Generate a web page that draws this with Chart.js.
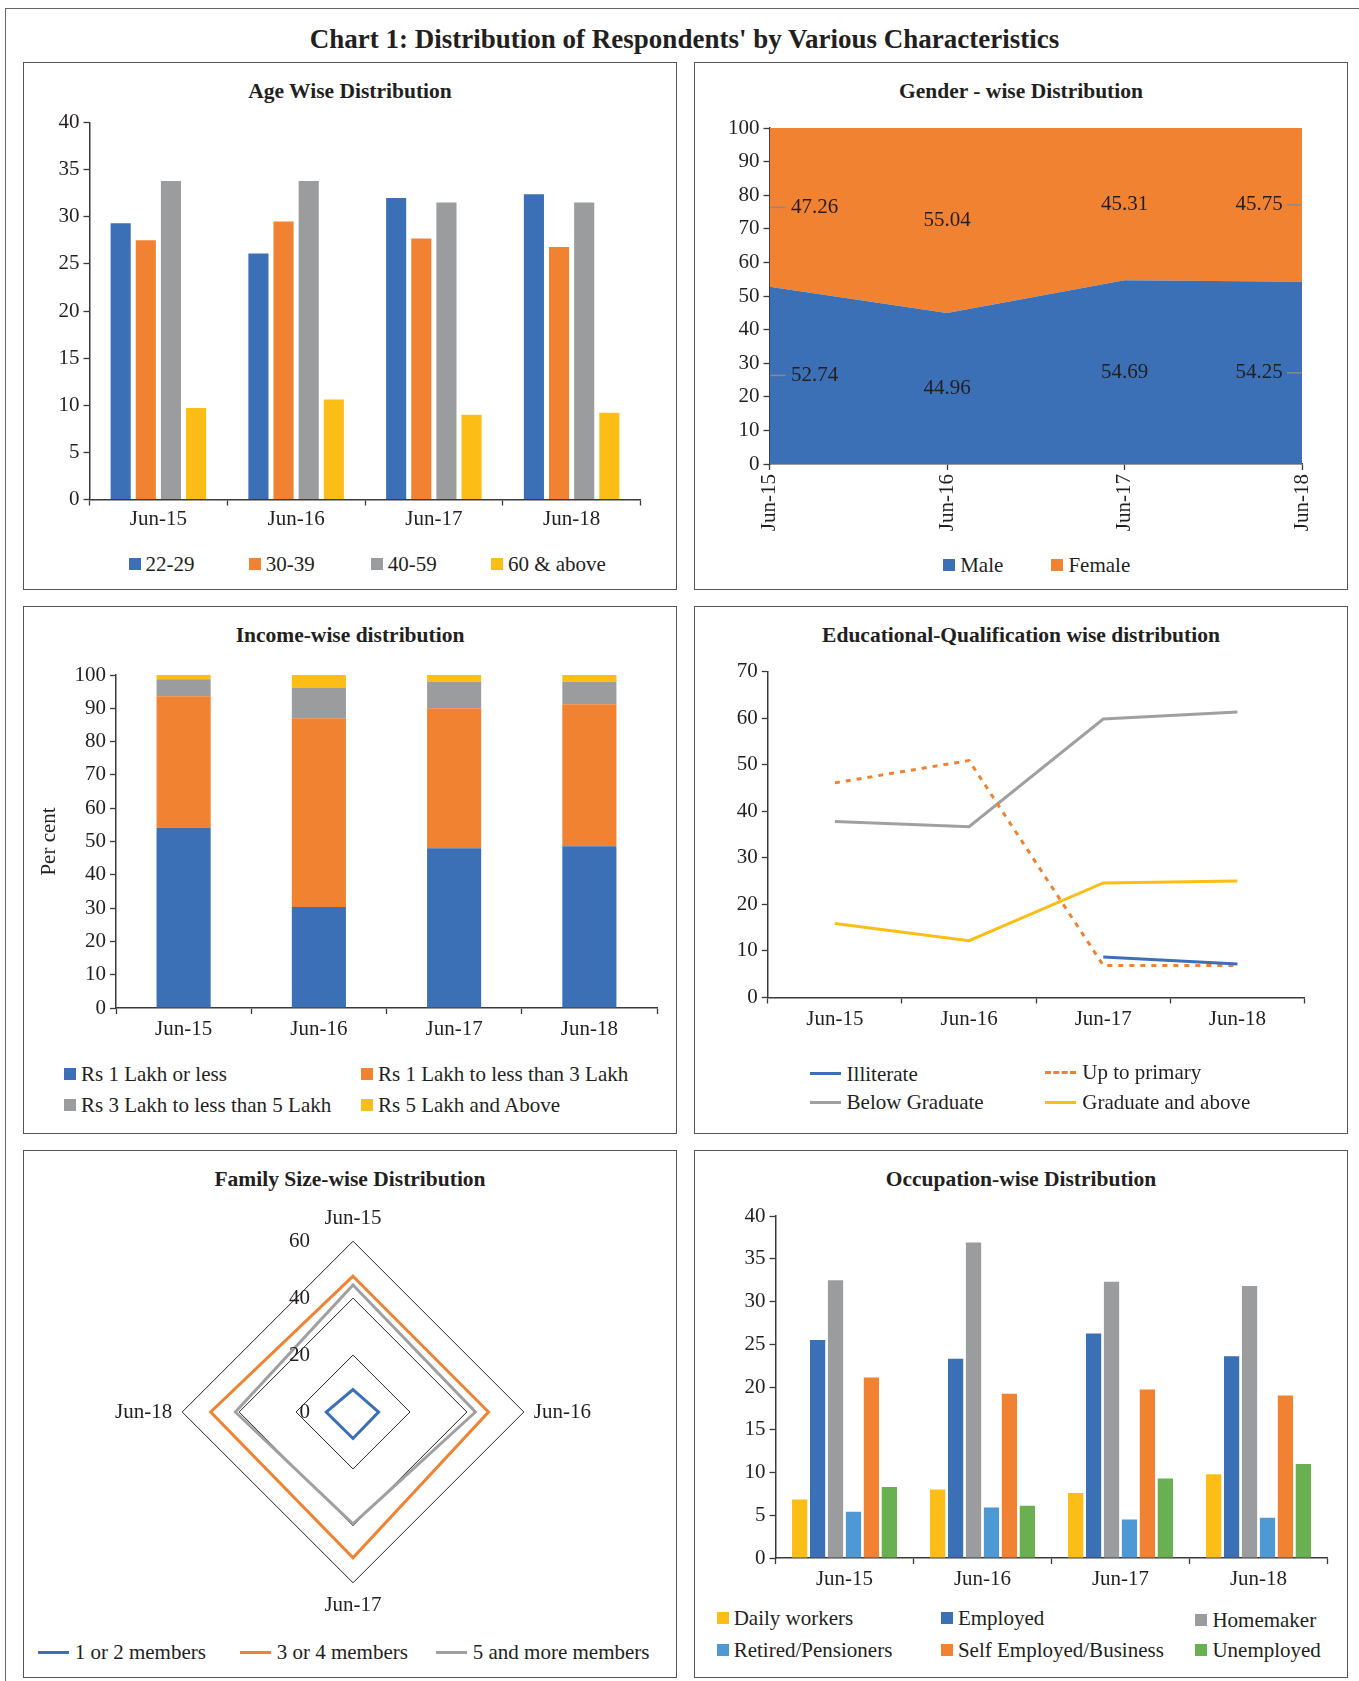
<!DOCTYPE html>
<html>
<head>
<meta charset="utf-8">
<script src="https://cdn.jsdelivr.net/npm/chart.js@4.4.1/dist/chart.umd.min.js"></script>
<style>
  html, body { margin: 0; padding: 0; background: #fff; }
  body { position: relative; width: 1359px; height: 1681px; overflow: hidden;
         font-family: 'Liberation Serif', 'DejaVu Serif', serif; color: #231F20; }
  .frame-top { position: absolute; left: 5px; top: 8px; right: 0; height: 0; border-top: 1.5px solid #666; }
  .frame-left { position: absolute; left: 5px; top: 8px; bottom: 0; width: 0; border-left: 1.5px solid #666; }
  .main-title { position: absolute; left: 10px; right: 0; top: 22px; text-align: center;
                font-weight: bold; font-size: 27px; line-height: 34px; }
  .panel { position: absolute; box-sizing: border-box; border: 1.5px solid #555; width: 654px; height: 528px; }
  .panel-title { position: absolute; left: 0; right: 0; top: 14px; text-align: center;
                 font-weight: bold; font-size: 21.5px; line-height: 28px; }
  canvas { position: absolute; }
  .legend-item { position: absolute; height: 26px; line-height: 26px; font-size: 21px; white-space: nowrap; }
  .legend-item .mk { position: absolute; left: 0; }
  .legend-item .tx { position: absolute; top: 0; }
</style>
</head>
<body>
<div class="frame-top"></div>
<div class="frame-left"></div>
<div class="main-title">Chart 1: Distribution of Respondents' by Various Characteristics</div>

<div class="panel" style="left:23px; top:62px;"><div class="panel-title">Age Wise Distribution</div></div>
<div class="panel" style="left:694px; top:62px;"><div class="panel-title">Gender - wise Distribution</div></div>
<div class="panel" style="left:23px; top:606px;"><div class="panel-title">Income-wise distribution</div></div>
<div class="panel" style="left:694px; top:606px;"><div class="panel-title">Educational-Qualification wise distribution</div></div>
<div class="panel" style="left:23px; top:1150px;"><div class="panel-title">Family Size-wise Distribution</div></div>
<div class="panel" style="left:694px; top:1150px;"><div class="panel-title">Occupation-wise Distribution</div></div>

<canvas id="ageChart" width="651" height="448" style="left:24px; top:100px;"></canvas>
<canvas id="genderChart" width="651" height="448" style="left:695px; top:100px;"></canvas>
<canvas id="incomeChart" width="651" height="415" style="left:24px; top:645px;"></canvas>
<canvas id="eduChart" width="651" height="415" style="left:695px; top:645px;"></canvas>
<canvas id="familyChart" width="560" height="413" style="left:73px; top:1206px;"></canvas>
<canvas id="occChart" width="651" height="412" style="left:695px; top:1190px;"></canvas>

<div id="legends"></div>

<script>
// ---- Survey rounds ----
const periods = ['Jun-15', 'Jun-16', 'Jun-17', 'Jun-18'];

// ---- Age (per cent of respondents) ----
const ageLabels = ['22-29', '30-39', '40-59', '60 & above'];
const age22to29 = [29.3, 26.1, 32.0, 32.4];
const age30to39 = [27.5, 29.5, 27.7, 26.8];
const age40to59 = [33.8, 33.8, 31.5, 31.5];
const age60plus = [9.7, 10.6, 9.0, 9.2];

// ---- Gender ----
const genderLabels = ['Male', 'Female'];
const genderMale = [52.74, 44.96, 54.69, 54.25];
const genderFemale = [47.26, 55.04, 45.31, 45.75];

// ---- Annual income ----
const incomeLabels = ['Rs 1 Lakh or less', 'Rs 1 Lakh to less than 3 Lakh',
                      'Rs 3 Lakh to less than 5 Lakh', 'Rs 5 Lakh and Above'];
const incomeUpTo1L = [54.1, 30.3, 48.0, 48.6];
const income1to3L = [39.5, 56.7, 42.0, 42.6];
const income3to5L = [5.1, 9.1, 8.0, 6.8];
const income5Lplus = [1.3, 3.9, 2.0, 2.0];

// ---- Education ----
const eduLabels = ['Illiterate', 'Up to primary', 'Below Graduate', 'Graduate and above'];
const eduIlliterate = [null, null, 8.7, 7.2];
const eduPrimary = [46.1, 50.9, 6.9, 6.9];
const eduBelowGrad = [37.8, 36.7, 59.8, 61.3];
const eduGraduate = [15.9, 12.2, 24.6, 25.0];

// ---- Family size ----
const familyLabels = ['1 or 2 members', '3 or 4 members', '5 and more members'];
const family1to2 = [7.9, 9.0, 9.3, 9.4];
const family3to4 = [47.7, 47.6, 51.2, 50.0];
const family5plus = [44.6, 43.0, 39.3, 41.3];

// ---- Occupation ----
const occLabels = ['Daily workers', 'Employed', 'Homemaker',
                   'Retired/Pensioners', 'Self Employed/Business', 'Unemployed'];
const occDaily = [6.85, 8.0, 7.6, 9.8];
const occEmployed = [25.5, 23.3, 26.25, 23.6];
const occHomemaker = [32.5, 36.9, 32.3, 31.8];
const occRetired = [5.4, 5.9, 4.5, 4.7];
const occSelfEmployed = [21.1, 19.2, 19.7, 19.0];
const occUnemployed = [8.3, 6.1, 9.3, 11.0];

// ---- Styling ----
const FONT = "'Liberation Serif', 'DejaVu Serif', serif";
const TEXT = '#231F20';
const AXIS = '#3a3a3a';
const C = {
  blue: '#3B6FB6', orange: '#F18232', gray: '#9A9C9D', yellow: '#FCBE16',
  lightBlue: '#4E98D3', green: '#68B050', lineGray: '#A0A0A0'
};

Chart.defaults.font.family = FONT;
Chart.defaults.font.size = 21;
Chart.defaults.color = TEXT;
Chart.defaults.animation = false;
Chart.defaults.responsive = false;
Chart.defaults.devicePixelRatio = 1;
Chart.defaults.plugins.legend.display = false;
Chart.defaults.plugins.tooltip.enabled = false;

function yAxis(width, min, max, step, extra) {
  return Object.assign({
    min: min, max: max,
    ticks: { stepSize: step, padding: 4, color: TEXT },
    grid: { drawOnChartArea: false, tickLength: 6, color: AXIS, tickWidth: 1.3 },
    border: { display: true, color: AXIS, width: 1.5 },
    afterFit: function (s) { s.width = width; }
  }, extra || {});
}

function xAxis(height, offset, extra) {
  return Object.assign({
    offset: offset,
    ticks: { padding: 3, maxRotation: 0, minRotation: 0, autoSkip: false, color: TEXT },
    grid: { drawOnChartArea: false, tickLength: 6, color: AXIS, tickWidth: 1.3, offset: offset },
    border: { display: true, color: AXIS, width: 1.5 },
    afterFit: function (s) { s.height = height; }
  }, extra || {});
}

function barSet(label, data, color, extra) {
  return Object.assign({ label: label, data: data, backgroundColor: color, borderWidth: 0 }, extra || {});
}

// ---- Age-wise grouped bars ----
new Chart(document.getElementById('ageChart'), {
  type: 'bar',
  data: {
    labels: periods,
    datasets: [
      barSet(ageLabels[0], age22to29, C.blue),
      barSet(ageLabels[1], age30to39, C.orange),
      barSet(ageLabels[2], age40to59, C.gray),
      barSet(ageLabels[3], age60plus, C.yellow)
    ]
  },
  options: {
    layout: { padding: { top: 22.5, right: 34.5, left: 0, bottom: 0 } },
    datasets: { bar: { categoryPercentage: 0.73, barPercentage: 0.8 } },
    scales: {
      x: xAxis(48.5, true, {
        ticks: { padding: 1, maxRotation: 0, minRotation: 0, autoSkip: false, color: TEXT }
      }),
      y: yAxis(65.5, 0, 40, 5)
    }
  }
});

// ---- Gender-wise stacked area with band values ----
const bandLabels = {
  id: 'bandLabels',
  afterDatasetsDraw(chart) {
    const ctx = chart.ctx, xs = chart.scales.x, ys = chart.scales.y;
    const base = periods.map(function () { return 0; });
    const last = periods.length - 1;
    ctx.save();
    ctx.font = '21px ' + FONT;
    ctx.fillStyle = TEXT;
    ctx.textAlign = 'center';
    ctx.textBaseline = 'middle';
    ctx.strokeStyle = '#8a8a8a';
    ctx.lineWidth = 1.5;
    chart.data.datasets.forEach(function (ds) {
      ds.data.forEach(function (v, i) {
        const px = xs.getPixelForValue(i);
        const py = ys.getPixelForValue(base[i] + v / 2);
        let lx = px;
        if (i === 0) {
          ctx.beginPath(); ctx.moveTo(px + 1, py); ctx.lineTo(px + 16, py); ctx.stroke();
          lx = px + 45;
        } else if (i === last) {
          ctx.beginPath(); ctx.moveTo(px - 15, py); ctx.lineTo(px, py); ctx.stroke();
          lx = px - 43;
        }
        ctx.fillText(v.toFixed(2), lx, py);
      });
      ds.data.forEach(function (v, i) { base[i] += v; });
    });
    ctx.restore();
  }
};

new Chart(document.getElementById('genderChart'), {
  type: 'line',
  data: {
    labels: periods,
    datasets: [
      { label: genderLabels[0], data: genderMale, backgroundColor: C.blue, borderColor: C.blue,
        borderWidth: 0, fill: 'origin', pointRadius: 0, tension: 0 },
      { label: genderLabels[1], data: genderFemale, backgroundColor: C.orange, borderColor: C.orange,
        borderWidth: 0, fill: '-1', pointRadius: 0, tension: 0 }
    ]
  },
  options: {
    layout: { padding: { top: 28, right: 44, left: 0, bottom: 0 } },
    scales: {
      x: xAxis(84, false, {
        ticks: { padding: 4, maxRotation: 90, minRotation: 90, autoSkip: false, color: TEXT }
      }),
      y: yAxis(74.5, 0, 100, 10, { stacked: true })
    }
  },
  plugins: [bandLabels]
});

// ---- Income-wise stacked bars ----
new Chart(document.getElementById('incomeChart'), {
  type: 'bar',
  data: {
    labels: periods,
    datasets: [
      barSet(incomeLabels[0], incomeUpTo1L, C.blue),
      barSet(incomeLabels[1], income1to3L, C.orange),
      barSet(incomeLabels[2], income3to5L, C.gray),
      barSet(incomeLabels[3], income5Lplus, C.yellow)
    ]
  },
  options: {
    layout: { padding: { top: 30, right: 18, left: 0, bottom: 0 } },
    datasets: { bar: { categoryPercentage: 1.0, barPercentage: 0.4 } },
    scales: {
      x: xAxis(52, true, { stacked: true }),
      y: yAxis(92, 0, 100, 10, {
        stacked: true,
        title: { display: true, text: 'Per cent', color: TEXT, font: { size: 21 }, padding: { top: 13, bottom: 0 } }
      })
    }
  }
});

// ---- Education lines ----
function lineSet(label, data, color, extra) {
  return Object.assign({ label: label, data: data, borderColor: color, backgroundColor: color,
    borderWidth: 3, pointRadius: 0, tension: 0, fill: false, spanGaps: false }, extra || {});
}

new Chart(document.getElementById('eduChart'), {
  type: 'line',
  data: {
    labels: periods,
    datasets: [
      lineSet(eduLabels[0], eduIlliterate, C.blue),
      lineSet(eduLabels[1], eduPrimary, C.orange, { borderDash: [5, 6] }),
      lineSet(eduLabels[2], eduBelowGrad, C.lineGray),
      lineSet(eduLabels[3], eduGraduate, C.yellow)
    ]
  },
  options: {
    layout: { padding: { top: 26.6, right: 41.5, left: 0, bottom: 0 } },
    scales: { x: xAxis(62.5, true), y: yAxis(72.8, 0, 70, 10) }
  }
});

// ---- Family size radar ----
const radarTicks = {
  id: 'radarTicks',
  afterDraw(chart) {
    const r = chart.scales.r, ctx = chart.ctx;
    ctx.save();
    ctx.font = '21px ' + FONT;
    ctx.fillStyle = TEXT;
    ctx.textAlign = 'right';
    ctx.textBaseline = 'middle';
    r.ticks.forEach(function (t) {
      const d = r.getDistanceFromCenterForValue(t.value);
      ctx.fillText(t.label, r.xCenter - 43, r.yCenter - d);
    });
    ctx.restore();
  }
};

new Chart(document.getElementById('familyChart'), {
  type: 'radar',
  data: {
    labels: periods,
    datasets: [
      lineSet(familyLabels[0], family1to2, C.blue),
      lineSet(familyLabels[1], family3to4, C.orange),
      lineSet(familyLabels[2], family5plus, C.lineGray)
    ]
  },
  options: {
    scales: {
      r: {
        min: 0, max: 60,
        ticks: { display: false, stepSize: 20 },
        grid: { color: '#222', lineWidth: 1 },
        angleLines: { display: false },
        pointLabels: { font: { size: 21 }, color: TEXT, padding: 10 }
      }
    }
  },
  plugins: [radarTicks]
});

// ---- Occupation grouped bars ----
new Chart(document.getElementById('occChart'), {
  type: 'bar',
  data: {
    labels: periods,
    datasets: [
      barSet(occLabels[0], occDaily, C.yellow),
      barSet(occLabels[1], occEmployed, C.blue),
      barSet(occLabels[2], occHomemaker, C.gray),
      barSet(occLabels[3], occRetired, C.lightBlue),
      barSet(occLabels[4], occSelfEmployed, C.orange),
      barSet(occLabels[5], occUnemployed, C.green)
    ]
  },
  options: {
    layout: { padding: { top: 26, right: 18.5, left: 0, bottom: 0 } },
    datasets: { bar: { categoryPercentage: 0.78, barPercentage: 0.85 } },
    scales: { x: xAxis(44, true), y: yAxis(80.5, 0, 40, 5) }
  }
});

// ---- Legends (HTML) ----
const legendHost = document.getElementById('legends');
function legend(items, spots) {
  items.forEach(function (it, i) {
    const x = spots[i][0], y = spots[i][1];
    const el = document.createElement('div');
    el.className = 'legend-item';
    el.style.left = x + 'px';
    el.style.top = (y - 13) + 'px';
    const mk = document.createElement('span');
    mk.className = 'mk';
    let textOffset;
    if (it.kind === 'box') {
      mk.style.top = '7px'; mk.style.width = '12px'; mk.style.height = '12px';
      mk.style.background = it.color;
      textOffset = 17;
    } else {
      mk.style.top = '11.5px'; mk.style.width = '31px'; mk.style.height = '0';
      mk.style.borderTop = '3px ' + (it.kind === 'dash' ? 'dashed ' : 'solid ') + it.color;
      textOffset = 37;
    }
    const tx = document.createElement('span');
    tx.className = 'tx';
    tx.style.left = textOffset + 'px';
    tx.textContent = it.label;
    el.appendChild(mk); el.appendChild(tx);
    legendHost.appendChild(el);
  });
}

legend(ageLabels.map(function (l, i) {
  return { label: l, color: [C.blue, C.orange, C.gray, C.yellow][i], kind: 'box' };
}), [[128.6, 563.7], [248.7, 563.7], [370.8, 563.7], [490.9, 563.7]]);

legend(genderLabels.map(function (l, i) {
  return { label: l, color: [C.blue, C.orange][i], kind: 'box' };
}), [[943.2, 564.8], [1051.4, 564.8]]);

legend(incomeLabels.map(function (l, i) {
  return { label: l, color: [C.blue, C.orange, C.gray, C.yellow][i], kind: 'box' };
}), [[64, 1074], [361, 1074], [64, 1105], [361, 1105]]);

legend(eduLabels.map(function (l, i) {
  return { label: l, color: [C.blue, C.orange, C.lineGray, C.yellow][i], kind: i === 1 ? 'dash' : 'line' };
}), [[809.6, 1073.7], [1045.3, 1072], [809.6, 1102.2], [1045.3, 1102.2]]);

legend(familyLabels.map(function (l, i) {
  return { label: l, color: [C.blue, C.orange, C.lineGray][i], kind: 'line' };
}), [[37.7, 1652], [239.7, 1652], [435.8, 1652]]);

legend(occLabels.map(function (l, i) {
  return { label: l, color: [C.yellow, C.blue, C.gray, C.lightBlue, C.orange, C.green][i], kind: 'box' };
}), [[716.7, 1618], [940.9, 1618], [1195.4, 1619.5], [716.7, 1650], [940.9, 1650], [1195.4, 1650]]);
</script>
</body>
</html>
